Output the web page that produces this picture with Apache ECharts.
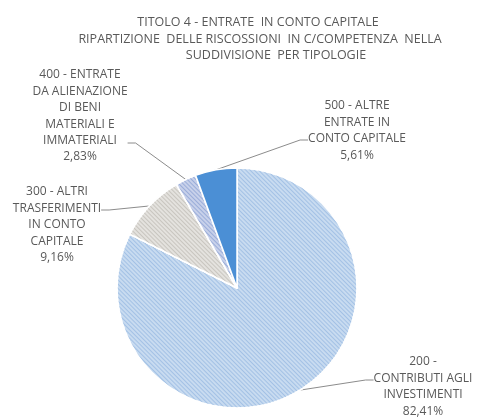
<!DOCTYPE html>
<html><head><meta charset="utf-8">
<script src="https://cdn.jsdelivr.net/npm/echarts@6/dist/echarts.min.js"></script>
<style>html,body{margin:0;padding:0;background:#fff}#c{width:479px;height:419px}</style>
</head><body><div id="c"></div>
<script>
const titleLines = [
  "TITOLO 4 - ENTRATE  IN CONTO CAPITALE",
  "RIPARTIZIONE  DELLE RISCOSSIONI  IN C/COMPETENZA  NELLA",
  "SUDDIVISIONE  PER TIPOLOGIE"
];
const categories = [
  "200 -\nCONTRIBUTI AGLI\nINVESTIMENTI",
  "300 - ALTRI\nTRASFERIMENTI\nIN CONTO\nCAPITALE",
  "400 - ENTRATE\nDA ALIENAZIONE\nDI BENI\nMATERIALI E\nIMMATERIALI",
  "500 - ALTRE\nENTRATE IN\nCONTO CAPITALE"
];
const percents = [82.41, 9.16, 2.83, 5.61];
const percentLabels = ["82,41%", "9,16%", "2,83%", "5,61%"];

// layout / style (not data)
const sliceColors = ["#c8dbf0", "#e4e2de", "#c8d1ea", "#4b8fd5"];
const decalColors = ["#a3c1e5", "#c8c5bf", "#9aadd9", null];
const titleLayout = [[258, 22], [260, 39], [276, 55]];
// [center x, first line center y, y where the leader line attaches]
const labelAnchor = [[423, 362, 380], [57, 192, 210], [80, 75, 143], [357, 106, 140]];
const LH = 16.4;

const FONT = "'Open Sans', sans-serif";
const chart = echarts.init(document.getElementById('c'));

// extra invisible space so that the label box's edge midpoint sits on the attach line
function labelGap(i) {
  const n = categories[i].split("\n").length + 1;
  const T = labelAnchor[i][1] - LH / 2;
  const H = n * LH;
  const A = labelAnchor[i][2];
  const c = T + H / 2;
  if (A < c) return { top: 2 * T + H - 2 * A, bottom: 0 };
  return { top: 0, bottom: 2 * A - 2 * T - H };
}

chart.setOption({
  backgroundColor: '#ffffff',
  title: titleLines.map((t, i) => ({
    text: t, left: titleLayout[i][0], top: titleLayout[i][1] - 8, textAlign: 'center', padding: 0,
    textStyle: { fontSize: 12.5, fontWeight: 'normal', color: '#595959', lineHeight: 16, fontFamily: FONT }
  })),
  series: [{
    type: 'pie',
    center: [237, 288], radius: 120, startAngle: 90, clockwise: true,
    animation: false,
    itemStyle: { borderColor: '#ffffff', borderWidth: 1.5 },
    label: {
      show: true, color: '#595959', fontSize: 12, lineHeight: LH, fontFamily: FONT, align: 'center',
      overflow: 'none',
      formatter: p => {
        const i = p.dataIndex;
        const g = labelGap(i);
        const lines = categories[i].split("\n").concat(percentLabels[i]).map(l => "{t|" + l + "}");
        if (g.top > 0.5) lines.unshift("{g| }");
        if (g.bottom > 0.5) lines.push("{g| }");
        return lines.join("\n");
      }
    },
    labelLine: { show: true, length: 10, length2: 8, lineStyle: { color: '#8c8c8c', width: 1 } },
    labelLayout: p => ({ x: labelAnchor[p.dataIndex][0], y: labelAnchor[p.dataIndex][2], align: 'center', verticalAlign: 'middle' }),
    data: percents.map((v, i) => {
      const style = { color: sliceColors[i] };
      if (decalColors[i]) {
        style.decal = { symbol: 'rect', symbolSize: 1, dashArrayX: [1, 0], dashArrayY: [1, 2], rotation: Math.PI / 4, color: decalColors[i] };
      }
      const g = labelGap(i);
      return {
        value: v, name: categories[i], itemStyle: style,
        label: {
          rich: {
            t: { fontSize: 12, lineHeight: LH, color: '#595959', fontFamily: FONT, align: 'center' },
            g: { fontSize: 1, lineHeight: Math.max(g.top, g.bottom, 1), align: 'center' }
          }
        }
      };
    })
  }]
});
</script></body></html>
